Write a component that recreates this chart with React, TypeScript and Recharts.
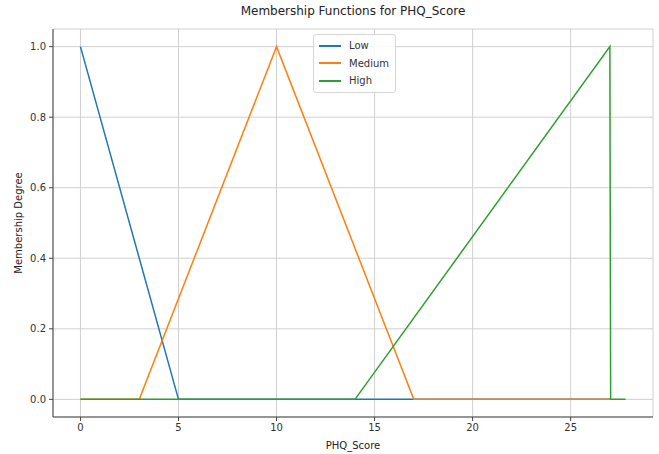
import { LineChart, Line, XAxis, YAxis, CartesianGrid } from 'recharts';

const lowX = [0, 5, 17, 27.04];
const lowY = [1, 0, 0, 0];
const mediumX = [0, 3, 10, 17, 27.04];
const mediumY = [0, 0, 1, 0, 0];
const highX = [0, 14, 27, 27.04, 27.8];
const highY = [0, 0, 1, 0, 0];
const xTicks = [0, 5, 10, 15, 20, 25];
const yTicks = [0, 0.2, 0.4, 0.6, 0.8, 1.0];

const toPoints = (xs: number[], ys: number[]) => xs.map((x, i) => ({ x, y: ys[i] }));

const series = [
    { name: 'Low', color: '#1f77b4', data: toPoints(lowX, lowY) },
    { name: 'Medium', color: '#ff7f0e', data: toPoints(mediumX, mediumY) },
    { name: 'High', color: '#2ca02c', data: toPoints(highX, highY) },
];

const font = "'DejaVu Sans', sans-serif";
const tickStyle = { fontSize: 10, fill: '#333', fontFamily: font };

// plain html legend, so recharts doesn't shrink the plot area for it
const LegendBox = () => (
    <div style={{
        position: 'absolute', left: 313, top: 34, width: 70,
        border: '1px solid #d6d6d6', borderRadius: 3, background: 'rgba(255,255,255,0.85)',
        padding: '2px 6px 2px 5px', fontFamily: font, fontSize: 10, color: '#333', lineHeight: '17.5px',
    }}>
        {series.map(s => (
            <div key={s.name} style={{ display: 'flex', alignItems: 'center' }}>
                <span style={{ display: 'inline-block', width: 22, height: 2, background: s.color, marginRight: 8 }} />
                {s.name}
            </div>
        ))}
    </div>
);

export default function App() {
    return (
        <div style={{ position: 'absolute', left: 0, top: 0, width: 659, height: 454, background: '#fff' }}>
            <div style={{ position: 'absolute', left: 53, width: 600, top: 4, textAlign: 'center', fontFamily: font, fontSize: 12, color: '#222' }}>
                Membership Functions for PHQ_Score
            </div>
            <div style={{ position: 'absolute', left: 53, width: 600, top: 440, textAlign: 'center', fontFamily: font, fontSize: 10, color: '#222' }}>
                PHQ_Score
            </div>
            <div style={{ position: 'absolute', left: 18, top: 223, transform: 'translate(-50%, -50%) rotate(-90deg)', whiteSpace: 'nowrap', fontFamily: font, fontSize: 10, color: '#222' }}>
                Membership Degree
            </div>
            <LineChart width={659} height={454} margin={{ top: 29, right: 6, bottom: 0, left: 0 }}>
                <CartesianGrid xAxisId="b" yAxisId="l" stroke="#d0d0d0" strokeWidth={1} />
                <XAxis xAxisId="b" type="number" dataKey="x" domain={[-1.4, 29.2]} ticks={xTicks} height={37}
                    allowDuplicatedCategory={false} tick={tickStyle} tickSize={4} tickMargin={3}
                    axisLine={{ stroke: '#444' }} tickLine={{ stroke: '#444' }} />
                <XAxis xAxisId="t" orientation="top" type="number" dataKey="x" domain={[-1.4, 29.2]} height={0}
                    tick={false} tickLine={false} axisLine={{ stroke: '#444' }} />
                <YAxis yAxisId="l" type="number" domain={[-0.05, 1.05]} ticks={yTicks} width={53}
                    tick={tickStyle} tickFormatter={(v: number) => v.toFixed(1)} tickSize={4} tickMargin={3}
                    axisLine={{ stroke: '#444' }} tickLine={{ stroke: '#444' }} />
                <YAxis yAxisId="r" orientation="right" type="number" domain={[-0.05, 1.05]} width={0}
                    tick={false} tickLine={false} axisLine={{ stroke: '#444' }} />
                {series.map(s => (
                    <Line key={s.name} xAxisId="b" yAxisId="l" data={s.data} dataKey="y" name={s.name}
                        type="linear" stroke={s.color} strokeWidth={1.5} dot={false} isAnimationActive={false} />
                ))}
            </LineChart>
            <LegendBox />
        </div>
    );
}
